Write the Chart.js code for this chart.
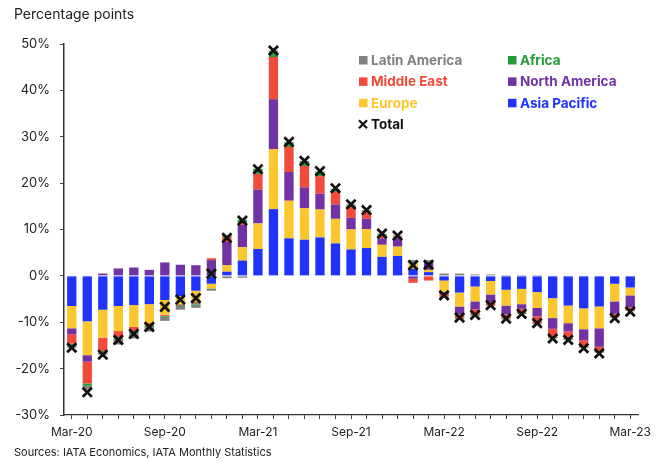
<!doctype html>
<html lang="en">
<head>
<meta charset="utf-8">
<title>Percentage points</title>
<style>
  html, body { margin: 0; padding: 0; background: #fff; }
</style>
</head>
<body>
<canvas id="myChart" width="662" height="461"></canvas>

<script src="https://cdn.jsdelivr.net/npm/chart.js"></script>
<script>
// setup
const months = ['Mar-20','Apr-20','May-20','Jun-20','Jul-20','Aug-20','Sep-20','Oct-20','Nov-20','Dec-20',
  'Jan-21','Feb-21','Mar-21','Apr-21','May-21','Jun-21','Jul-21','Aug-21','Sep-21','Oct-21','Nov-21','Dec-21',
  'Jan-22','Feb-22','Mar-22','Apr-22','May-22','Jun-22','Jul-22','Aug-22','Sep-22','Oct-22','Nov-22','Dec-22',
  'Jan-23','Feb-23','Mar-23'];

const asiaPacific = [-6.5,-9.8,-7.3,-6.5,-6.3,-6.1,-5.2,-4.4,-3.2,-1.7,
  0.9,3.3,5.8,14.4,8.1,7.8,8.3,7.0,5.7,6.0,4.1,4.3,
  1.5,0.8,-1.0,-3.6,-2.3,-1.1,-3.0,-2.8,-3.5,-4.8,-6.4,-7.0,
  -6.6,-1.7,-2.5];
const europe = [-4.8,-7.3,-6.0,-5.4,-4.7,-4.0,-3.2,-1.7,-2.4,-1.0,
  1.4,2.9,5.5,12.9,8.1,6.8,6.0,5.3,4.3,4.1,2.6,2.0,
  1.3,0.5,-2.4,-3.0,-3.2,-2.9,-3.4,-3.3,-3.4,-4.3,-3.8,-4.5,
  -4.7,-3.8,-1.7];
const northAmerica = [-1.3,-1.4,0.5,1.6,1.8,1.3,2.9,2.4,2.3,3.4,
  5.0,4.8,7.3,10.8,6.2,4.5,3.4,3.1,2.5,2.2,1.4,1.9,
  -0.6,1.7,-0.5,-1.7,-1.7,-1.7,-1.9,-1.0,-1.8,-2.3,-1.8,-2.4,
  -4.0,-2.7,-2.6];
const middleEast = [-2.0,-4.7,-2.9,-1.4,-1.0,-0.7,-0.2,-0.2,-0.3,0.4,
  1.1,0.4,3.4,9.1,5.4,4.6,3.8,2.7,2.4,1.6,0.6,0.3,
  -0.9,-1.0,-0.7,-0.9,-1.2,-0.7,-0.9,-0.9,-1.6,-1.9,-1.6,-1.4,
  -0.9,-0.7,-0.7];
const africa = [-0.4,-0.5,-0.3,-0.3,-0.3,-0.2,-0.2,-0.2,-0.3,-0.1,
  0.3,0.7,1.1,1.2,1.0,1.0,0.8,0.5,0.3,0.2,0.3,0.1,
  0.2,0.1,-0.1,-0.2,-0.2,-0.1,-0.2,-0.2,-0.1,-0.2,-0.2,-0.2,
  -0.3,-0.1,-0.1];
const latinAmerica = [-0.5,-0.8,-0.5,-1.2,-1.2,-1.0,-0.9,-0.8,-0.7,-0.4,
  -0.5,-0.4,0.0,0.2,0.1,0.1,0.2,0.2,0.2,0.1,0.1,0.1,
  0.4,0.3,0.5,0.5,0.3,0.3,0.2,0.2,0.2,0.1,0.1,0.0,
  -0.1,0.0,0.0];
const total = [-15.5,-25.1,-17.0,-13.8,-12.5,-11.0,-6.7,-5.1,-4.8,0.5,
  8.2,11.9,23.0,48.6,28.9,24.8,22.6,18.9,15.4,14.2,9.1,8.7,
  2.3,2.4,-4.2,-9.0,-8.4,-6.3,-9.2,-8.2,-10.2,-13.5,-13.8,-15.6,
  -16.7,-9.1,-7.7];

const yTicks = [-30, -20, -10, 0, 10, 20, 30, 40, 50];

const font = 'Inter, "DejaVu Sans", sans-serif';

function barSet(label, values, color) {
  return {
    type: 'bar',
    label: label,
    data: values,
    backgroundColor: color,
    borderWidth: 0,
    stack: 'regions',
    order: 1,
    barPercentage: 0.6,
    categoryPercentage: 1.0
  };
}

const data = {
  labels: months,
  datasets: [
    barSet('Asia Pacific', asiaPacific, '#1f33fb'),
    barSet('Europe', europe, '#fcc62e'),
    barSet('North America', northAmerica, '#7132a3'),
    barSet('Middle East', middleEast, '#f34b3a'),
    barSet('Africa', africa, '#279a38'),
    barSet('Latin America', latinAmerica, '#808080'),
    {
      type: 'line',
      label: 'Total',
      data: total,
      stack: 'total',
      showLine: false,
      order: 0,
      pointStyle: 'crossRot',
      pointRadius: 6.5,
      pointBorderWidth: 2.8,
      borderColor: '#111',
      backgroundColor: '#111'
    }
  ]
};

// legend grid drawn by hand: [label, column, row]
const legendLayout = [
  ['Latin America', 0, 0], ['Africa', 1, 0],
  ['Middle East', 0, 1], ['North America', 1, 1],
  ['Europe', 0, 2], ['Asia Pacific', 1, 2],
  ['Total', 0, 3]
];

const textPlugin = {
  id: 'textPlugin',
  afterDraw(chart) {
    const ctx = chart.ctx;
    ctx.save();
    ctx.textAlign = 'left';
    ctx.textBaseline = 'middle';
    ctx.fillStyle = '#222';
    ctx.font = '14px ' + font;
    ctx.fillText('Percentage points', 14, 15);
    ctx.font = '11px ' + font;
    ctx.fillText('Sources: IATA Economics, IATA Monthly Statistics', 14, 453);

    ctx.font = 'bold 13.5px ' + font;
    legendLayout.forEach(([name, col, row]) => {
      const ds = chart.data.datasets.find(d => d.label === name);
      const x = 359 + col * 149;
      const y = 60 + row * 21.4;
      if (name === 'Total') {
        ctx.strokeStyle = '#111';
        ctx.lineWidth = 2.2;
        ctx.beginPath();
        ctx.moveTo(x, y - 4); ctx.lineTo(x + 8, y + 4);
        ctx.moveTo(x + 8, y - 4); ctx.lineTo(x, y + 4);
        ctx.stroke();
        ctx.fillStyle = '#111';
      } else {
        ctx.fillStyle = ds.backgroundColor;
        ctx.fillRect(x, y - 4, 8.5, 8.5);
      }
      ctx.fillText(name, x + 12, y + 1);
    });
    ctx.restore();
  }
};

// config
const config = {
  data,
  plugins: [textPlugin],
  options: {
    responsive: false,
    animation: false,
    devicePixelRatio: 1,
    layout: { padding: { top: 44, right: 24, left: 0, bottom: 0 } },
    plugins: {
      legend: { display: false },
      tooltip: { enabled: false }
    },
    scales: {
      x: {
        stacked: true,
        offset: true,
        afterFit: (scale) => { scale.height = 46; },
        grid: {
          offset: false,
          drawOnChartArea: false,
          drawTicks: true,
          tickLength: 4,
          color: '#444'
        },
        border: { display: true, color: '#333', width: 1.2 },
        ticks: {
          autoSkip: false,
          maxRotation: 0,
          padding: 6,
          color: '#222',
          font: { family: font, size: 12 },
          callback: function (value, index) {
            return index % 6 === 0 ? this.getLabelForValue(value) : '';
          }
        }
      },
      y: {
        stacked: true,
        min: -30,
        max: 50,
        afterFit: (scale) => { scale.width = 64; },
        afterBuildTicks: (scale) => { scale.ticks = yTicks.map(v => ({ value: v })); },
        grid: {
          drawOnChartArea: false,
          drawTicks: true,
          tickLength: 4,
          color: '#444'
        },
        border: { display: true, color: '#333', width: 1.5 },
        ticks: {
          padding: 10,
          color: '#222',
          font: { family: font, size: 13 },
          callback: (value) => value + '%'
        }
      }
    }
  }
};

// render init block
const myChart = new Chart(document.getElementById('myChart'), config);
</script>
</body>
</html>
